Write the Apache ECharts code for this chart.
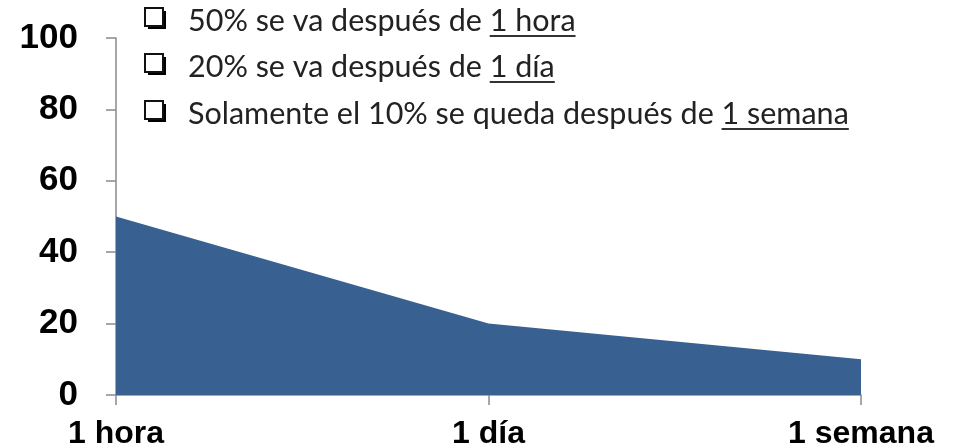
<!DOCTYPE html>
<html><head><meta charset="utf-8">
<script src="https://cdn.jsdelivr.net/npm/echarts@6/dist/echarts.min.js"></script>
<style>html,body{margin:0;padding:0;background:#fff}#c{width:953px;height:448px}</style>
</head><body><div id="c"></div>
<script>
// ---- data ----
const categories = ['1 hora', '1 día', '1 semana'];
const values = [50, 20, 10];
const yMin = 0, yMax = 100, yStep = 20;
const notePrefixes = ['50% se va después de ', '20% se va después de ', 'Solamente el 10% se queda después de '];
const noteUnderlined = ['1 hora', '1 día', '1 semana'];

// ---- layout / style ----
const noteFamily = 'Lato';
const noteSize = 30.5;
const noteX = 188;
const noteBaselines = [32, 78, 125];
const ctx = document.createElement('canvas').getContext('2d');
ctx.font = noteSize + 'px ' + noteFamily;

const graphics = [];
notePrefixes.forEach((p, i) => {
  const b = noteBaselines[i];
  // checkbox with shadow
  graphics.push({ type: 'rect', shape: { x: 148, y: b - 21, width: 18, height: 18 }, style: { fill: '#000' } });
  graphics.push({ type: 'rect', shape: { x: 145, y: b - 24, width: 18, height: 18 }, style: { fill: '#fff', stroke: '#111', lineWidth: 2 } });
  const wPre = ctx.measureText(p).width;
  const wU = ctx.measureText(noteUnderlined[i]).width;
  graphics.push({
    type: 'text', x: noteX, y: b - 0.857 * noteSize,
    style: { text: p + noteUnderlined[i], fontFamily: noteFamily, fontSize: noteSize, fill: '#222', verticalAlign: 'top', align: 'left' }
  });
  graphics.push({ type: 'line', shape: { x1: noteX + wPre, y1: b + 4, x2: noteX + wPre + wU, y2: b + 4 }, style: { stroke: '#333', lineWidth: 2 } });
});

const chart = echarts.init(document.getElementById('c'), null, { renderer: 'canvas' });
chart.setOption({
  animation: false,
  backgroundColor: '#fff',
  grid: { left: 116, right: 92, top: 38, bottom: 53, containLabel: false, outerBoundsMode: 'none' },
  xAxis: {
    type: 'category', data: categories, boundaryGap: false,
    axisLine: { lineStyle: { color: '#8a8a8a', width: 1.5 } },
    axisTick: { show: true, alignWithLabel: true, length: 10, lineStyle: { color: '#8a8a8a', width: 1.5 } },
    axisLabel: { color: '#000', fontFamily: 'Liberation Sans', fontWeight: 'bold', fontSize: 32, margin: 23 },
    splitLine: { show: false }
  },
  yAxis: {
    type: 'value', min: yMin, max: yMax, interval: yStep,
    axisLine: { show: true, lineStyle: { color: '#8a8a8a', width: 1.5 } },
    axisTick: { show: true, length: 10, lineStyle: { color: '#8a8a8a', width: 1.5 } },
    axisLabel: { color: '#000', fontFamily: 'Liberation Sans', fontWeight: 'bold', fontSize: 35, margin: 38 },
    splitLine: { show: false }
  },
  series: [{
    type: 'line', data: values, symbol: 'none',
    lineStyle: { width: 0 },
    areaStyle: { color: '#386090', opacity: 1 }
  }],
  graphic: graphics
});
</script></body></html>
